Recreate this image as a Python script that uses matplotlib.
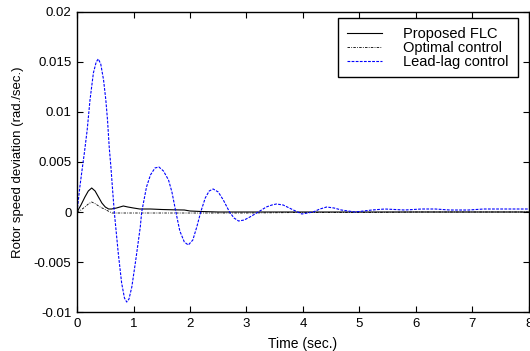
import matplotlib
matplotlib.use("Agg")
import matplotlib.pyplot as plt

plt.rcParams['font.family'] = ['Liberation Sans', 'DejaVu Sans']
plt.rcParams['font.size'] = 9.5

# Lead-lag control response
t_ll = [0, 0.05, 0.094, 0.13, 0.18, 0.23, 0.29, 0.34, 0.377, 0.42, 0.47, 0.51,
        0.54, 0.57, 0.6, 0.63, 0.66, 0.73, 0.79, 0.84, 0.88, 0.92, 0.97, 1.04,
        1.12, 1.145, 1.23, 1.3, 1.38, 1.45, 1.53, 1.62, 1.68, 1.75, 1.82, 1.9,
        1.97, 2.05, 2.12, 2.19, 2.27, 2.34, 2.41, 2.5, 2.59, 2.7, 2.78, 2.86,
        2.96, 3.06, 3.21, 3.35, 3.45, 3.53, 3.65, 3.83, 3.98, 4.18, 4.3, 4.42,
        4.55, 4.68, 4.92, 5.22, 5.45, 5.8, 6.1, 6.34, 6.6, 6.93, 7.2, 7.4, 7.7, 8.0]
v_ll = [0, 0.0025, 0.0044, 0.0059, 0.0082, 0.0112, 0.0139, 0.0150, 0.0153, 0.0148, 0.0132, 0.0112,
        0.0092, 0.0065, 0.0045, 0.0022, 0.0, -0.0041, -0.0071, -0.0086, -0.0090, -0.0087, -0.0075, -0.0048,
        -0.0015, 0.0, 0.0025, 0.0037, 0.0044, 0.0045, 0.0041, 0.0032, 0.0020, 0.0, -0.0019, -0.0030,
        -0.0033, -0.0028, -0.0015, 0.0, 0.0014, 0.0021, 0.0023, 0.0020, 0.0012, 0.0, -0.0006, -0.0009,
        -0.0008, -0.0005, 0.0, 0.0005, 0.0007, 0.0008, 0.0007, 0.0002, -0.0002, 0.0, 0.0003, 0.0005,
        0.0004, 0.0002, 0.0, 0.0002, 0.0003, 0.0002, 0.0003, 0.0003, 0.0002, 0.0002, 0.0003, 0.0003, 0.0003, 0.0003]

# Proposed FLC response
t_flc = [0, 0.07, 0.14, 0.2, 0.26, 0.32, 0.38, 0.44, 0.5, 0.56, 0.61, 0.7, 0.76,
         0.82, 0.9, 1.0, 1.11, 1.3, 1.5, 1.7, 1.9, 2.0, 2.2, 2.5, 3.0, 4.0, 5.0, 6.0, 7.0, 8.0]
v_flc = [0, 0.0007, 0.0015, 0.0021, 0.0024, 0.0021, 0.0015, 0.0009, 0.0005, 0.0003, 0.0003, 0.0004, 0.0005,
         0.0006, 0.0005, 0.0004, 0.0003, 0.0003, 0.00025, 0.00022, 0.0002, 0.0001, 0.00005, 0.0, 0.0, 0.0, 0.0, 0.0, 0.0, 0.0]

# Optimal control response
t_opt = [0, 0.07, 0.14, 0.2, 0.26, 0.33, 0.41, 0.48, 0.55, 0.62, 0.8, 1.0, 1.5,
         2.0, 3.0, 4.0, 5.0, 6.0, 7.0, 8.0]
v_opt = [0, 0.0002, 0.0005, 0.0008, 0.0010, 0.0008, 0.0005, 0.0003, 0.0001, -0.0001, -0.0001, -0.0001, -0.0001,
         -0.0001, -0.0001, -0.00005, -0.00005, 0.0, 0.0, 0.0]

fig = plt.figure(figsize=(5.3, 3.51), dpi=100)
ax = fig.add_axes([0.1453, 0.111, 0.8527, 0.855])

ax.plot(t_flc, v_flc, color='black', lw=0.8, label='Proposed FLC')
ax.plot(t_opt, v_opt, color='black', lw=0.6, ls=(0, (3, 1.5, 1, 1.5)), label='Optimal control')
ax.plot(t_ll, v_ll, color='blue', lw=0.8, ls=(0, (2.5, 1.2)), label='Lead-lag control')

ax.set_xlim(0, 8)
ax.set_ylim(-0.01, 0.02)
ax.set_xticks(range(0, 9))
ax.set_yticks([-0.01, -0.005, 0, 0.005, 0.01, 0.015, 0.02])
ax.set_yticklabels(['-0.01', '-0.005', '0', '0.005', '0.01', '0.015', '0.02'])
ax.tick_params(direction='in', top=True, right=True, length=4, width=0.8, pad=4)
for s in ax.spines.values():
    s.set_linewidth(1.0)

ax.set_xlabel('Time (sec.)', fontsize=10, labelpad=5)
ax.set_ylabel('Rotor speed deviation (rad./sec.)', fontsize=9.5, labelpad=7)

leg = ax.legend(loc='upper right', bbox_to_anchor=(0.975, 0.98), fancybox=False,
                edgecolor='black', framealpha=1, fontsize=10.5, handlelength=2.4,
                handletextpad=1.45, labelspacing=0.0, borderpad=0.6, borderaxespad=0)
leg.get_frame().set_linewidth(1.0)

fig.savefig('out.png', dpi=100)
plt.close()
